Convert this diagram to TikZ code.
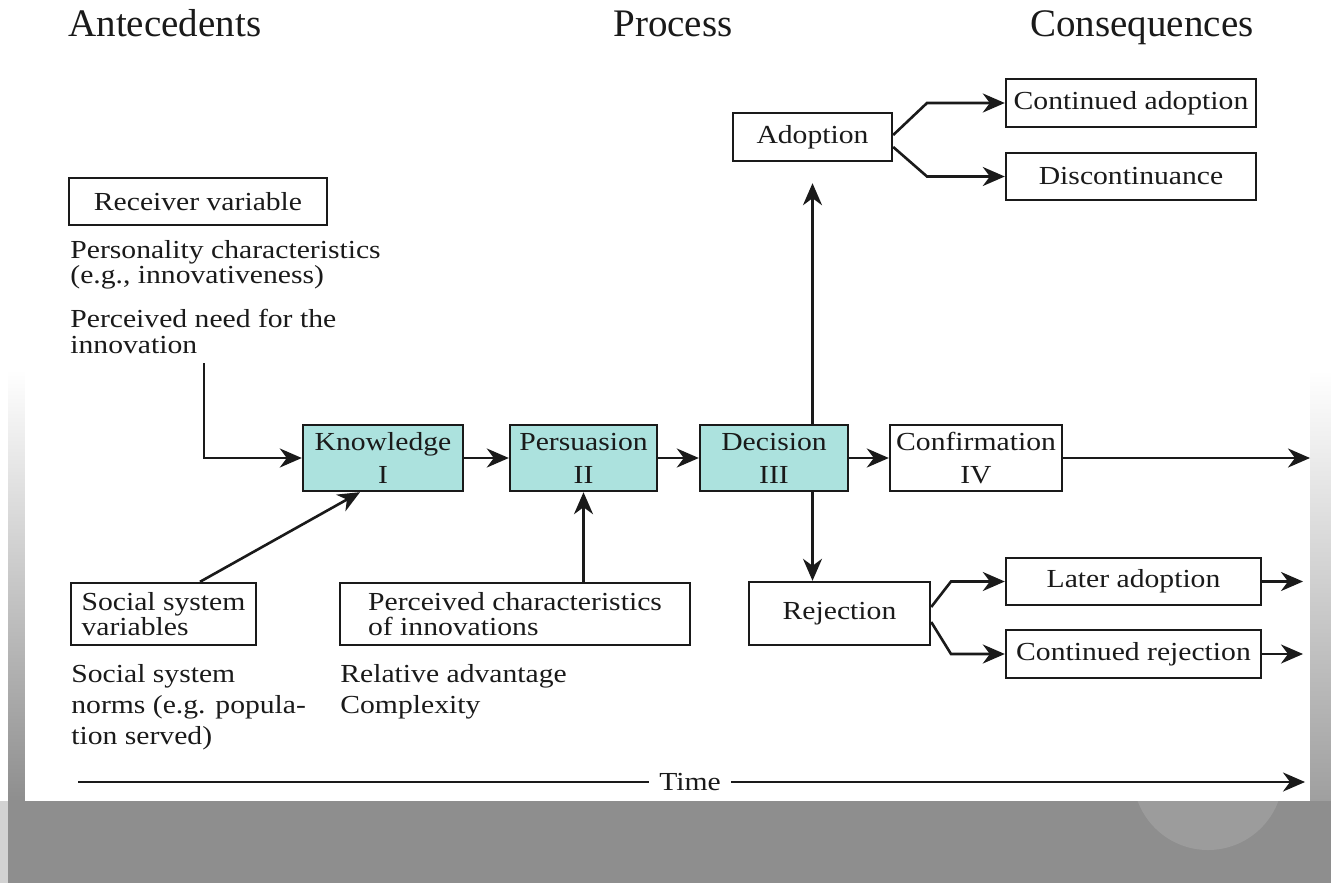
\documentclass[tikz,border=0pt]{standalone}
\usepackage{fontspec}
\setmainfont[FakeStretch=1.14]{Liberation Serif}
\newfontfamily\headfont{Liberation Serif}
\usetikzlibrary{arrows.meta,calc}
\definecolor{ink}{HTML}{1A1A1A}
\definecolor{procfill}{RGB}{172,226,222}
\definecolor{bggray}{HTML}{8E8E8E}
\begin{document}
\begin{tikzpicture}[x=0.5pt,y=-0.5pt,
  every node/.style={text=ink, inner sep=0pt},
  bx/.style={draw=ink, line width=1.2pt, align=center, font=\fontsize{13}{16.5}\selectfont},
  proc/.style={bx, fill=procfill, minimum height=33pt},
  con/.style={draw=ink, line width=1.3pt, -{Stealth[length=11pt,width=9.5pt,inset=3.5pt]}},
  ln/.style={draw=ink, line width=1.3pt},
  head/.style={font=\headfont\fontsize{19.5}{22}\selectfont, anchor=base west},
  txt/.style={anchor=north west, align=left}]
\useasboundingbox (0,0) rectangle (1331,883);
% background
\fill[white] (0,0) rectangle (1331,883);
\shade[top color=white,bottom color=bggray] (8,370) rectangle (25,801);
\shade[top color=white,bottom color=bggray!85] (1310,370) rectangle (1331,801);
\fill[bggray] (8,801) rectangle (1331,883);
\fill[bggray!40] (0,801) rectangle (8,883);
\fill[bggray!88!white] (1208,775) circle[radius=75];
\fill[white] (25,0) rectangle (1310,801);

% headings
\node[head] (hA) at (68,37) {Antecedents};
\node[head] (hP) at (613,37) {Process};
\node[head] (hC) at (1030,37) {Consequences};

% antecedents
\node[bx, minimum width=129pt, minimum height=23.5pt] (recv) at (198,201.5) {Receiver variable};
\node[txt, font=\fontsize{13}{12.75}\selectfont] (pc) at (70,240) {Personality characteristics\\(e.g., innovativeness)};
\node[txt, font=\fontsize{13}{12.75}\selectfont] (pn) at (70,309) {Perceived need for the\\innovation};

\node[bx, align=left, minimum width=92.5pt, minimum height=31pt, font=\fontsize{13}{12.5}\selectfont] (soc) at (163.5,614) {Social system\\variables};
\node[bx, align=left, minimum width=175pt, minimum height=31pt, font=\fontsize{13}{12.5}\selectfont] (perc) at (515,614) {Perceived characteristics\\of innovations};
\node[txt, font=\fontsize{13}{15.5}\selectfont] (sn) at (71,664) {Social system\\norms (e.g. popula-\\tion served)};
\node[txt, font=\fontsize{13}{15.5}\selectfont] (ra) at (340,664) {Relative advantage\\Complexity};

% process
\node[proc, minimum width=80pt] (know) at (383,458) {Knowledge\\I};
\node[proc, minimum width=73.5pt] (pers) at (583.5,458) {Persuasion\\II};
\node[proc, minimum width=74pt] (deci) at (774,458) {Decision\\III};
\node[bx, minimum width=86pt, minimum height=33pt] (conf) at (976,458) {Confirmation\\IV};

% consequences
\node[bx, minimum width=79.5pt, minimum height=24pt] (adopt) at (812.5,137) {Adoption};
\node[bx, minimum width=125pt, minimum height=24pt] (cont) at (1131,103) {Continued adoption};
\node[bx, minimum width=125pt, minimum height=23.5pt] (disc) at (1131,176.5) {Discontinuance};
\node[bx, minimum width=90.5pt, minimum height=31.5pt] (rej) at (839.5,613.5) {Rejection};
\node[bx, minimum width=127.5pt, minimum height=23.5pt] (later) at (1133.5,581.5) {Later adoption};
\node[bx, minimum width=127.5pt, minimum height=24pt] (contrej) at (1133.5,654) {Continued rejection};

% connectors
\coordinate (elb) at (204,363);
\draw[con] (elb) |- (know.west);
\draw[con] ([xshift=18.25pt]soc.north) -- ([xshift=-11.5pt]know.south);
\draw[con] (pers.south |- perc.north) -- (pers.south);
\draw[con] (know) -- (pers);
\draw[con] (pers) -- (deci);
\draw[con] (deci) -- (conf);
\coordinate (confend) at (1310,458);
\draw[con] (conf) -- (confend);
\draw[con] (adopt.south |- deci.north) -- ($(adopt.south)+(0,21)$);
\draw[con] (adopt.south |- deci.south) -- (adopt.south |- rej.north);

\coordinate (a1) at (927,103);
\coordinate (a2) at (927,176.5);
\draw[con] ([yshift=1pt]adopt.east) -- (a1) -- (cont.west);
\draw[con] ([yshift=-5pt]adopt.east) -- (a2) -- (disc.west);

\coordinate (r1) at (951,581.5);
\coordinate (r2) at (951,654);
\draw[con] ([yshift=3.25pt]rej.east) -- (r1) -- (later.west);
\draw[con] ([yshift=-4.25pt]rej.east) -- (r2) -- (contrej.west);
\coordinate (le) at (1303,581.5);
\draw[con] (later) -- (le);
\coordinate (ce) at (1303,654);
\draw[con] (contrej) -- (ce);

% time
\coordinate (t0) at (78,782);
\coordinate (t1) at (1305,782);
\node[inner xsep=5pt, font=\fontsize{13}{15}\selectfont] (time) at (690,782) {Time};
\draw[ln] (t0) -- (time.west);
\draw[con] (time.east) -- (t1);
\end{tikzpicture}
\end{document}
